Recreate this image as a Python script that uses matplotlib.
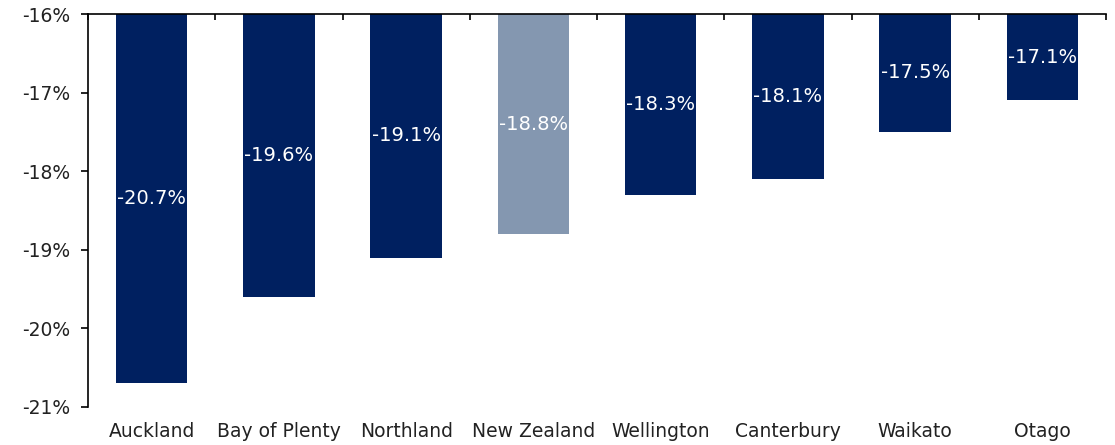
import matplotlib
matplotlib.use("Agg")
import matplotlib.pyplot as plt
import numpy as np

categories = ["Auckland", "Bay of Plenty", "Northland", "New Zealand",
              "Wellington", "Canterbury", "Waikato", "Otago"]
values = [-20.7, -19.6, -19.1, -18.8, -18.3, -18.1, -17.5, -17.1]
labels = ["-20.7%", "-19.6%", "-19.1%", "-18.8%", "-18.3%", "-18.1%", "-17.5%", "-17.1%"]
yticks = [-21, -20, -19, -18, -17, -16]
ytick_labels = ["-21%", "-20%", "-19%", "-18%", "-17%", "-16%"]

navy = "#002060"
grey = "#8497B0"
colors = [grey if c == "New Zealand" else navy for c in categories]

plt.rcParams['font.family'] = ['DejaVu Sans']

fig = plt.figure(figsize=(11.15, 4.45), dpi=100)
ax = fig.add_axes([88/1115, 1-407/445, (1106-88)/1115, (407-14)/445])

base = -16
x = np.arange(len(categories))
heights = [v - base for v in values]
bars = ax.bar(x, heights, bottom=base, width=0.56, color=colors, edgecolor='none')

for xi, v, lab in zip(x, values, labels):
    ax.text(xi, (v + base) / 2, lab, ha='center', va='center', color='white', fontsize=14)

ax.set_xlim(-0.5, len(categories) - 0.5)
ax.set_ylim(-21, -16)
ax.set_yticks(yticks)
ax.set_yticklabels(ytick_labels, fontsize=13.5, color='#222222')

ax.set_xticks(x)
ax.set_xticklabels(categories, fontsize=13.5, color='#222222')
ax.tick_params(axis='x', which='major', length=0, pad=11, bottom=True, top=False)
ax.set_xticks(np.arange(-0.5, len(categories), 1.0), minor=True)
ax.tick_params(axis='x', which='minor', top=True, bottom=False, direction='in', length=4, width=1.2)
ax.tick_params(axis='y', direction='out', length=5, width=1.2, pad=8)

for s in ['right', 'bottom']:
    ax.spines[s].set_visible(False)
for s in ['left', 'top']:
    ax.spines[s].set_linewidth(1.2)

fig.savefig("out.png", dpi=100)
